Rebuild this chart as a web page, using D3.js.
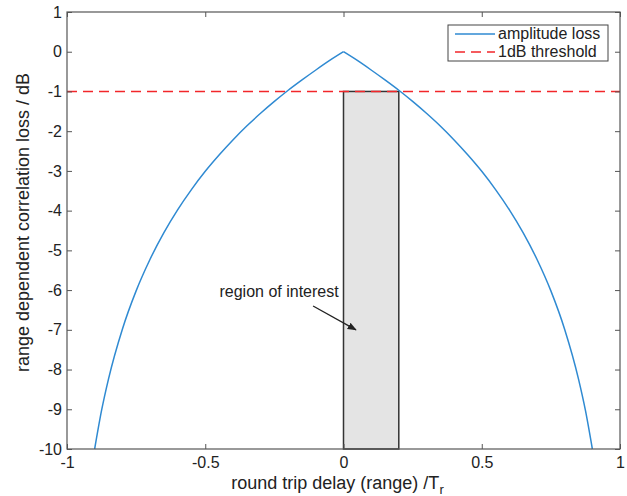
<!DOCTYPE html>
<html>
<head>
<meta charset="utf-8">
<script src="https://cdn.jsdelivr.net/npm/d3@7"></script>
<style>
  body { margin: 0; background: #fff; }
  text { font-family: "Liberation Sans", Arial, sans-serif; fill: #222; }
</style>
</head>
<body>
<div id="chart"></div>
<script>
// 数据 - 从图中读取
const delayValues = [-0.9, -0.875, -0.85, -0.8, -0.75, -0.7, -0.65, -0.6, -0.55, -0.5, -0.45, -0.4, -0.35, -0.3, -0.25, -0.2, -0.15, -0.1, -0.05, 0,
                     0.05, 0.1, 0.15, 0.2, 0.25, 0.3, 0.35, 0.4, 0.45, 0.5, 0.55, 0.6, 0.65, 0.7, 0.75, 0.8, 0.85, 0.875, 0.9];
const lossValues = [-10, -9.03, -8.24, -6.99, -6.02, -5.23, -4.56, -3.98, -3.47, -3.01, -2.6, -2.22, -1.87, -1.55, -1.25, -0.97, -0.71, -0.46, -0.22, 0,
                    -0.22, -0.46, -0.71, -0.97, -1.25, -1.55, -1.87, -2.22, -2.6, -3.01, -3.47, -3.98, -4.56, -5.23, -6.02, -6.99, -8.24, -9.03, -10];
const thresholdValue = -1;
const regionX = [0, 0.2];
const regionY = [-10, -1];
const xTicks = [-1, -0.5, 0, 0.5, 1];
const yTicks = [1, 0, -1, -2, -3, -4, -5, -6, -7, -8, -9, -10];
const legendLabels = ['amplitude loss', '1dB threshold'];

function createChart() {
    const W = 627, H = 496;
    const margin = { top: 12, right: 7, bottom: 47, left: 67 };
    const width = W - margin.left - margin.right;
    const height = H - margin.top - margin.bottom;

    const svg = d3.select('#chart').append('svg')
        .attr('width', W).attr('height', H);
    const g = svg.append('g')
        .attr('transform', `translate(${margin.left},${margin.top})`);

    const x = d3.scaleLinear().domain([-1, 1]).range([0, width]);
    const y = d3.scaleLinear().domain([-10, 1]).range([height, 0]);

    // 感兴趣区域
    g.append('rect')
        .attr('x', x(regionX[0]))
        .attr('y', y(regionY[1]))
        .attr('width', x(regionX[1]) - x(regionX[0]))
        .attr('height', y(regionY[0]) - y(regionY[1]))
        .attr('fill', '#e4e4e4')
        .attr('stroke', '#333')
        .attr('stroke-width', 1.5);

    // 阈值线
    g.append('line')
        .attr('x1', 0).attr('x2', width)
        .attr('y1', y(thresholdValue)).attr('y2', y(thresholdValue))
        .attr('stroke', '#f2262a')
        .attr('stroke-width', 1.5)
        .attr('stroke-dasharray', '10,6');

    // 曲线 (左右两半, 顶点保持尖角)
    const points = delayValues.map((d, i) => [d, lossValues[i]]);
    const line = d3.line()
        .x(d => x(d[0]))
        .y(d => y(d[1]))
        .curve(d3.curveMonotoneX);
    [points.filter(p => p[0] <= 0), points.filter(p => p[0] >= 0)].forEach(half => {
        g.append('path')
            .datum(half)
            .attr('d', line)
            .attr('fill', 'none')
            .attr('stroke', '#2f8ad2')
            .attr('stroke-width', 1.5);
    });

    // 坐标轴
    const axisColor = '#555';
    const styleAxis = sel => {
        sel.select('.domain').remove();
        sel.selectAll('line').attr('stroke', axisColor);
        sel.selectAll('text').style('font-size', '16px').attr('fill', '#222');
    };
    g.append('g').attr('transform', `translate(0,${height})`)
        .call(d3.axisBottom(x).tickValues(xTicks).tickSize(-5).tickPadding(8).tickFormat(d => String(d)))
        .call(styleAxis);
    g.append('g')
        .call(d3.axisLeft(y).tickValues(yTicks).tickSize(-5).tickPadding(5).tickFormat(d => String(d)))
        .call(styleAxis);
    g.append('g')
        .call(d3.axisTop(x).tickValues(xTicks).tickSize(-5).tickFormat(''))
        .call(styleAxis);
    g.append('g').attr('transform', `translate(${width},0)`)
        .call(d3.axisRight(y).tickValues(yTicks).tickSize(-5).tickFormat(''))
        .call(styleAxis);
    g.append('rect')
        .attr('width', width).attr('height', height)
        .attr('fill', 'none').attr('stroke', axisColor).attr('stroke-width', 1.2);

    // 坐标轴标签
    const xl = g.append('text')
        .attr('x', width / 2 - 6).attr('y', height + 40)
        .attr('text-anchor', 'middle')
        .style('font-size', '18px');
    xl.append('tspan').text('round trip delay (range) /T');
    xl.append('tspan').attr('dy', 5).style('font-size', '13px').text('r');

    g.append('text')
        .attr('transform', `translate(${-38},${height / 2 - 8}) rotate(-90)`)
        .attr('text-anchor', 'middle')
        .style('font-size', '18px')
        .text('range dependent correlation loss / dB');

    // 注释
    svg.append('defs').append('marker')
        .attr('id', 'arrow')
        .attr('viewBox', '0 0 10 10')
        .attr('refX', 9).attr('refY', 5)
        .attr('markerWidth', 7).attr('markerHeight', 7)
        .attr('orient', 'auto')
        .append('path').attr('d', 'M0,1 L10,5 L0,9 Z').attr('fill', '#222');
    g.append('text')
        .attr('x', x(-0.233)).attr('y', y(-6.17))
        .attr('text-anchor', 'middle')
        .style('font-size', '16px')
        .text('region of interest');
    g.append('line')
        .attr('x1', x(-0.11)).attr('y1', y(-6.4))
        .attr('x2', x(0.045)).attr('y2', y(-7.0))
        .attr('stroke', '#222').attr('stroke-width', 1.3)
        .attr('marker-end', 'url(#arrow)');

    // 图例
    const lg = svg.append('g').attr('transform', 'translate(448,25)');
    lg.append('rect').attr('width', 160).attr('height', 36)
        .attr('fill', '#fff').attr('stroke', '#444').attr('stroke-width', 1);
    lg.append('line').attr('x1', 7).attr('x2', 47).attr('y1', 9).attr('y2', 9)
        .attr('stroke', '#2f8ad2').attr('stroke-width', 1.5);
    lg.append('line').attr('x1', 7).attr('x2', 47).attr('y1', 27).attr('y2', 27)
        .attr('stroke', '#f2262a').attr('stroke-width', 1.5).attr('stroke-dasharray', '10,6');
    lg.selectAll('.lt').data(legendLabels).enter().append('text')
        .attr('x', 50).attr('y', (d, i) => 14 + i * 18)
        .style('font-size', '16px')
        .text(d => d);
}

document.addEventListener('DOMContentLoaded', createChart);
</script>
</body>
</html>
